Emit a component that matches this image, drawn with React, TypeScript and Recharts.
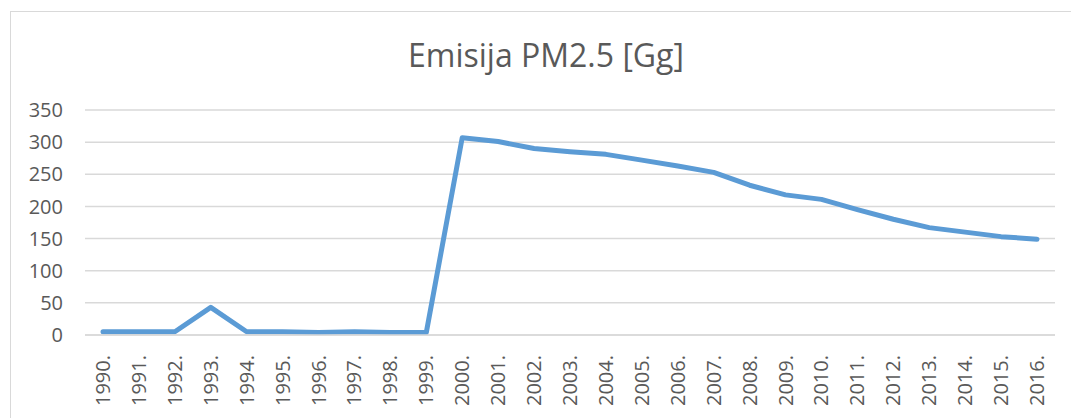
import React from "react";
import {
  LineChart,
  Line,
  XAxis,
  YAxis,
  CartesianGrid,
} from "recharts";

// godine i emisija PM2.5 [Gg], procijenjeno sa slike
const years = [
  "1990.", "1991.", "1992.", "1993.", "1994.", "1995.", "1996.", "1997.", "1998.",
  "1999.", "2000.", "2001.", "2002.", "2003.", "2004.", "2005.", "2006.", "2007.",
  "2008.", "2009.", "2010.", "2011.", "2012.", "2013.", "2014.", "2015.", "2016.",
];
const emission = [
  5, 5, 5, 43, 5, 5, 4, 5, 4,
  4, 307, 301, 290, 285, 281, 272, 263, 253,
  233, 218, 211, 195, 180, 167, 160, 153, 149,
];
const yTicks = [0, 50, 100, 150, 200, 250, 300, 350];

const chartData = years.map((year, i) => ({ year, value: emission[i] }));

const LINE_BLUE = "#5B9BD5";
const TEXT_GREY = "#595959";
const GRID_GREY = "#d9d9d9";
const FONT = "'Open Sans', sans-serif";

const YearTick = ({ x, y, payload }: any) => (
  <text
    x={x}
    y={y}
    transform={`rotate(-90, ${x}, ${y})`}
    textAnchor="end"
    dy="0.35em"
    fontSize={20}
    fontFamily={FONT}
    fill={TEXT_GREY}
  >
    {payload.value}
  </text>
);

export default function App() {
  return (
    <div
      style={{
        position: "absolute",
        left: 0,
        top: 0,
        width: 1071,
        height: 418,
        background: "#fff",
        overflow: "hidden",
      }}
    >
      {/* chart frame, runs off the right and bottom edge */}
      <div
        style={{
          position: "absolute",
          left: 10,
          top: 11,
          width: 1100,
          height: 440,
          border: `1.5px solid ${GRID_GREY}`,
          boxSizing: "border-box",
        }}
      />
      <LineChart
        width={1071}
        height={418}
        data={chartData}
        margin={{ top: 110, right: 16, left: 0, bottom: 0 }}
        style={{ position: "absolute", left: 0, top: 0 }}
      >
        <CartesianGrid vertical={false} stroke={GRID_GREY} strokeWidth={1.5} />
        <XAxis
          dataKey="year"
          height={83}
          interval={0}
          padding={{ left: 18, right: 18 }}
          tickLine={false}
          axisLine={{ stroke: GRID_GREY, strokeWidth: 1.5 }}
          tick={<YearTick />}
          tickMargin={14}
        />
        <YAxis
          width={85}
          domain={[0, 350]}
          ticks={yTicks}
          axisLine={false}
          tickLine={false}
          tickMargin={16}
          tick={{ fontSize: 20, fontFamily: FONT, fill: TEXT_GREY }}
        />
        <Line
          type="linear"
          dataKey="value"
          stroke={LINE_BLUE}
          strokeWidth={5}
          strokeLinejoin="round"
          strokeLinecap="round"
          dot={false}
          activeDot={false}
          isAnimationActive={false}
        />
      </LineChart>
      <svg
        width={1071}
        height={100}
        style={{ position: "absolute", left: 0, top: 0, pointerEvents: "none" }}
      >
        <text
          x={546}
          y={67}
          textAnchor="middle"
          fontSize={32}
          fontFamily={FONT}
          fill={TEXT_GREY}
        >
          Emisija PM2.5 [Gg]
        </text>
      </svg>
    </div>
  );
}
